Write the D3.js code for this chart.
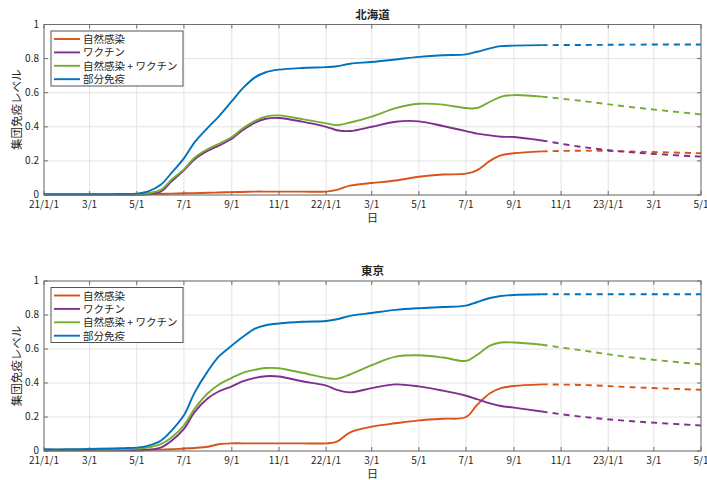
<!DOCTYPE html>
<html>
<head>
<meta charset="utf-8">
<script src="https://cdn.jsdelivr.net/npm/d3@7"></script>
<style>
  body { margin: 0; background: #fff; }
  text { font-family: "Noto Sans CJK JP", "Noto Sans", sans-serif; fill: #262626; }
  .grid line { stroke: #e3e3e3; stroke-width: 1; }
  .box { fill: none; stroke: #6e6e6e; stroke-width: 1; }
  .tick-mark { stroke: #6e6e6e; stroke-width: 1; }
</style>
</head>
<body>
<script>
// Series names and colors (MATLAB default order)
var seriesNames = ["自然感染", "ワクチン", "自然感染 + ワクチン", "部分免疫"];
var seriesColors = ["#D95319", "#7E2F8E", "#77AC30", "#0072BD"];

// Dates for the observed (solid) part
var obsDates = ["2021-01-01", "2021-02-01", "2021-03-01", "2021-04-01", "2021-04-15", "2021-05-01",
    "2021-05-15", "2021-06-01", "2021-06-15", "2021-07-01", "2021-07-15", "2021-08-01", "2021-08-15",
    "2021-09-01", "2021-09-15", "2021-10-01", "2021-10-15", "2021-11-01", "2021-12-01", "2022-01-01",
    "2022-01-15", "2022-02-01", "2022-03-01", "2022-04-01", "2022-05-01", "2022-06-01", "2022-07-01",
    "2022-07-15", "2022-08-01", "2022-08-15", "2022-09-01", "2022-10-07"];
// Dates for the projected (dashed) part
var projDates = ["2022-10-07", "2022-12-01", "2023-02-01", "2023-05-01"];

// 北海道
var hokkaidoNatural = [0.002, 0.002, 0.002, 0.002, 0.002, 0.002, 0.004, 0.006, 0.008, 0.01, 0.011, 0.013, 0.015,
    0.017, 0.018, 0.02, 0.02, 0.02, 0.02, 0.02, 0.03, 0.055, 0.07, 0.085, 0.107, 0.12, 0.125,
    0.145, 0.2, 0.232, 0.245, 0.256];
var hokkaidoVaccine = [0.002, 0.002, 0.002, 0.002, 0.002, 0.003, 0.005, 0.02, 0.08, 0.145, 0.21, 0.26, 0.29,
    0.33, 0.38, 0.425, 0.447, 0.452, 0.43, 0.40, 0.38, 0.375, 0.40, 0.43, 0.432, 0.405, 0.375,
    0.36, 0.35, 0.342, 0.34, 0.32];
var hokkaidoBoth = [0.003, 0.003, 0.003, 0.003, 0.003, 0.005, 0.01, 0.03, 0.09, 0.15, 0.22, 0.27, 0.30,
    0.34, 0.39, 0.435, 0.46, 0.467, 0.445, 0.42, 0.41, 0.425, 0.46, 0.51, 0.535, 0.53, 0.51,
    0.51, 0.547, 0.576, 0.586, 0.577];
var hokkaidoPartial = [0.005, 0.005, 0.005, 0.005, 0.006, 0.008, 0.02, 0.06, 0.13, 0.215, 0.31, 0.395, 0.46,
    0.55, 0.625, 0.69, 0.72, 0.735, 0.745, 0.75, 0.755, 0.77, 0.78, 0.795, 0.81, 0.82, 0.825,
    0.84, 0.86, 0.873, 0.876, 0.879];
var hokkaidoProj = [
    [0.256, 0.26, 0.255, 0.245],
    [0.32, 0.28, 0.25, 0.225],
    [0.577, 0.55, 0.515, 0.473],
    [0.879, 0.88, 0.882, 0.883]
];

// 東京
var tokyoNatural = [0.003, 0.003, 0.003, 0.003, 0.003, 0.003, 0.005, 0.008, 0.01, 0.015, 0.018, 0.025, 0.04,
    0.045, 0.045, 0.045, 0.045, 0.045, 0.045, 0.045, 0.055, 0.11, 0.143, 0.163, 0.18, 0.19, 0.2,
    0.27, 0.34, 0.37, 0.382, 0.392];
var tokyoVaccine = [0.005, 0.005, 0.005, 0.005, 0.005, 0.005, 0.008, 0.02, 0.06, 0.13, 0.23, 0.31, 0.35,
    0.38, 0.41, 0.43, 0.44, 0.438, 0.41, 0.385, 0.36, 0.345, 0.37, 0.392, 0.38, 0.355, 0.325,
    0.305, 0.28, 0.265, 0.255, 0.232];
var tokyoBoth = [0.008, 0.008, 0.008, 0.008, 0.01, 0.015, 0.02, 0.04, 0.08, 0.15, 0.25, 0.34, 0.39,
    0.43, 0.46, 0.478, 0.488, 0.487, 0.46, 0.43, 0.425, 0.45, 0.505, 0.555, 0.563, 0.55, 0.53,
    0.565, 0.62, 0.638, 0.638, 0.625];
var tokyoPartial = [0.01, 0.01, 0.012, 0.015, 0.017, 0.02, 0.03, 0.06, 0.12, 0.21, 0.345, 0.47, 0.555,
    0.62, 0.67, 0.72, 0.74, 0.75, 0.76, 0.765, 0.775, 0.795, 0.812, 0.83, 0.84, 0.847, 0.855,
    0.875, 0.9, 0.912, 0.918, 0.922];
var tokyoProj = [
    [0.392, 0.388, 0.375, 0.36],
    [0.232, 0.2, 0.175, 0.15],
    [0.625, 0.59, 0.55, 0.51],
    [0.922, 0.922, 0.922, 0.922]
];

var yTicks = [0, 0.2, 0.4, 0.6, 0.8, 1];

// Define SVG dimensions
var width = 707,
    height = 480;

var parse = d3.timeParse("%Y-%m-%d");

var x = d3.scaleTime()
    .domain([parse("2021-01-01"), parse("2023-05-01")])
    .range([44, 701]);

var xTicks = d3.timeMonth.every(2).range(parse("2021-01-01"), parse("2023-05-02"));

function fmtTick(d) {
    if (d.getMonth() === 0) return d3.timeFormat("%y")(d) + "/1/1";
    return (d.getMonth() + 1) + "/1";
}

var svg = d3.select("body")
    .append("svg")
    .attr("width", width)
    .attr("height", height);

drawPanel({
    title: "北海道", top: 24.5, bottom: 195,
    series: [hokkaidoNatural, hokkaidoVaccine, hokkaidoBoth, hokkaidoPartial],
    proj: hokkaidoProj
});
drawPanel({
    title: "東京", top: 281, bottom: 451,
    series: [tokyoNatural, tokyoVaccine, tokyoBoth, tokyoPartial],
    proj: tokyoProj
});

function drawPanel(p) {
    var y = d3.scaleLinear().domain([0, 1]).range([p.bottom, p.top]);
    var left = x.range()[0], right = x.range()[1];
    var g = svg.append("g");

    // grid
    var grid = g.append("g").attr("class", "grid");
    grid.selectAll(".gx").data(xTicks).enter().append("line")
        .attr("x1", d => x(d)).attr("x2", d => x(d))
        .attr("y1", p.top).attr("y2", p.bottom);
    grid.selectAll(".gy").data(yTicks).enter().append("line")
        .attr("x1", left).attr("x2", right)
        .attr("y1", d => y(d)).attr("y2", d => y(d));

    // lines
    var line = d3.line()
        .x(d => x(d[0]))
        .y(d => y(d[1]))
        .curve(d3.curveCatmullRom.alpha(0.5));

    p.series.forEach(function (vals, i) {
        var pts = obsDates.map((d, j) => [parse(d), vals[j]]);
        g.append("path")
            .datum(pts)
            .attr("d", line)
            .attr("fill", "none")
            .attr("stroke", seriesColors[i])
            .attr("stroke-width", 1.9);
        var ppts = projDates.map((d, j) => [parse(d), p.proj[i][j]]);
        g.append("path")
            .datum(ppts)
            .attr("d", line)
            .attr("fill", "none")
            .attr("stroke", seriesColors[i])
            .attr("stroke-width", 1.9)
            .attr("stroke-dasharray", "6,5");
    });

    // box and inward ticks
    g.append("rect").attr("class", "box")
        .attr("x", left).attr("y", p.top)
        .attr("width", right - left).attr("height", p.bottom - p.top);
    xTicks.forEach(function (d) {
        g.append("line").attr("class", "tick-mark")
            .attr("x1", x(d)).attr("x2", x(d)).attr("y1", p.bottom).attr("y2", p.bottom - 4);
        g.append("line").attr("class", "tick-mark")
            .attr("x1", x(d)).attr("x2", x(d)).attr("y1", p.top).attr("y2", p.top + 4);
    });
    yTicks.forEach(function (d) {
        g.append("line").attr("class", "tick-mark")
            .attr("x1", left).attr("x2", left + 4).attr("y1", y(d)).attr("y2", y(d));
        g.append("line").attr("class", "tick-mark")
            .attr("x1", right).attr("x2", right - 4).attr("y1", y(d)).attr("y2", y(d));
    });

    // tick labels
    g.selectAll(".xl").data(xTicks).enter().append("text")
        .attr("x", d => x(d))
        .attr("y", p.bottom + 13)
        .attr("text-anchor", "middle")
        .attr("font-size", 10)
        .text(fmtTick);
    g.selectAll(".yl").data(yTicks).enter().append("text")
        .attr("x", left - 5)
        .attr("y", d => y(d) + 3)
        .attr("text-anchor", "end")
        .attr("font-size", 10)
        .text(d => d3.format("~g")(d));

    // titles
    var cx = (left + right) / 2;
    g.append("text")
        .attr("x", cx).attr("y", p.top - 6)
        .attr("text-anchor", "middle")
        .attr("font-size", 11.5)
        .attr("font-weight", "bold")
        .text(p.title);
    g.append("text")
        .attr("x", cx).attr("y", p.bottom + 27)
        .attr("text-anchor", "middle")
        .attr("font-size", 11)
        .text("日");
    g.append("text")
        .attr("transform", "translate(21," + (p.top + p.bottom) / 2 + ") rotate(-90)")
        .attr("text-anchor", "middle")
        .attr("font-size", 11.5)
        .text("集団免疫レベル");

    // legend
    var lg = g.append("g").attr("transform", "translate(51," + (p.top + 6.5) + ")");
    lg.append("rect")
        .attr("width", 132).attr("height", 55)
        .attr("fill", "#fff").attr("stroke", "#555").attr("stroke-width", 1);
    seriesNames.forEach(function (name, i) {
        var yy = 8 + i * 13.4;
        lg.append("line")
            .attr("x1", 3).attr("x2", 29).attr("y1", yy).attr("y2", yy)
            .attr("stroke", seriesColors[i]).attr("stroke-width", 1.9);
        lg.append("text")
            .attr("x", 32).attr("y", yy + 4)
            .attr("font-size", 10.5)
            .text(name);
    });
}
</script>
</body>
</html>
